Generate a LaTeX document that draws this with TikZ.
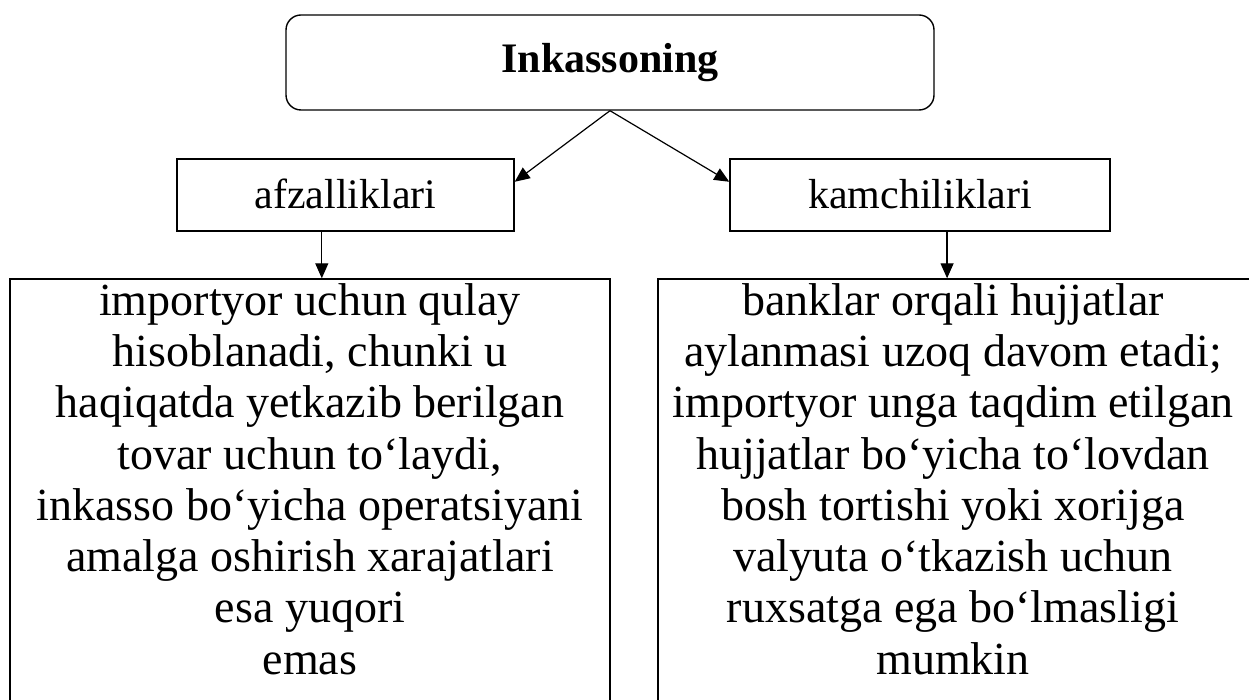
\documentclass[tikz,border=0pt]{standalone}
\usepackage{fontspec}
\setmainfont{Liberation Serif}
\usetikzlibrary{arrows.meta,calc}
\begin{document}
\begin{tikzpicture}[x=1pt,y=-1pt,
  box/.style={draw,line width=1.4pt,inner sep=0pt},
  conn/.style={line width=1.2pt,-{Triangle[length=15pt,width=13pt]}},
  txt/.style={font=\fontsize{42}{48}\selectfont,align=center,inner sep=0pt},
  bigtxt/.style={font=\fontsize{46}{51.3}\selectfont,align=center,inner sep=0pt}]
\useasboundingbox (0,0) rectangle (1249,700);
\clip (0,0) rectangle (1249,700);
\node[box,rounded corners=15pt,minimum width=648pt,minimum height=95pt] (top) at (610,62.5) {};
\node[txt,font=\fontsize{42}{48}\selectfont\bfseries] (toptxt) at (610,63) {Inkassoning};
\node[box,minimum width=337pt,minimum height=72pt] (afz) at (345.5,195) {};
\node[txt] (afztxt) at (345.5,194) {afzalliklari};
\node[box,minimum width=380pt,minimum height=72pt] (kam) at (920,195) {};
\node[txt] (kamtxt) at (920,194) {kamchiliklari};
\node[box,minimum width=600pt,minimum height=442pt] (lb) at (310,500) {};
\node[box,minimum width=602pt,minimum height=442pt] (rb) at (959,500) {};
\node[bigtxt,anchor=north] (lbtxt) at (310,283) {importyor uchun qulay\\hisoblanadi, chunki u\\haqiqatda yetkazib berilgan\\tovar uchun to‘laydi,\\inkasso bo‘yicha operatsiyani\\amalga oshirish xarajatlari\\esa yuqori\\emas};
\node[bigtxt,anchor=north] (rbtxt) at (953,283) {banklar orqali hujjatlar\\aylanmasi uzoq davom etadi;\\importyor unga taqdim etilgan\\hujjatlar bo‘yicha to‘lovdan\\bosh tortishi yoki xorijga\\valyuta o‘tkazish uchun\\ruxsatga ega bo‘lmasligi\\mumkin};
\coordinate (ta) at (top.south);
\coordinate (ae) at ($(afz.north east)!0.32!(afz.south east)$);
\coordinate (kw) at ($(kam.north west)!0.32!(kam.south west)$);
\coordinate (as) at ($(afz.south west)!0.43!(afz.south east)$);
\coordinate (ks) at ($(kam.south west)!0.571!(kam.south east)$);
\draw[conn] (ta) -- (ae);
\draw[conn] (ta) -- (kw);
\draw[conn] (as) -- (as |- lb.north);
\draw[conn] (ks) -- (ks |- rb.north);
\end{tikzpicture}
\end{document}
